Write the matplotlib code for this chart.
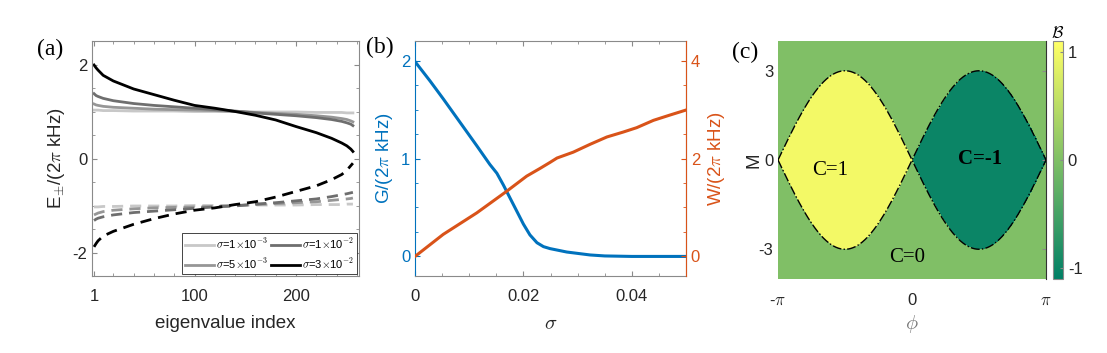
import matplotlib as mpl
import matplotlib.pyplot as plt
import numpy as np
from matplotlib.ticker import MultipleLocator, FixedLocator

mpl.rcParams['font.family'] = ['Liberation Sans', 'DejaVu Sans']
mpl.rcParams['mathtext.fontset'] = 'cm'
mpl.rcParams['axes.unicode_minus'] = False

tick_size = 12
label_size = 13.5
panel_size = 17
axis_gray = '#8a8a8a'
text_gray = '#262626'

# ---- panel (a): eigenvalues vs index ----
idx = [1, 3, 5, 10, 20, 40, 60, 80, 100, 120, 140, 160, 180, 200, 220, 235, 245, 250, 254, 256]
sigmas = ['1', '5', '1', '3']
sigma_exp = ['-3', '-3', '-2', '-2']
gray_colors = ['#c8c8c8', '#969696', '#6e6e6e', '#000000']
e_plus = [
    [1.03, 1.03, 1.03, 1.02, 1.02, 1.01, 1.01, 1.01, 1.00, 1.00, 1.00, 0.99, 0.99, 0.99, 0.98, 0.98, 0.98, 0.97, 0.97, 0.97],
    [1.16, 1.14, 1.13, 1.11, 1.09, 1.07, 1.05, 1.04, 1.03, 1.02, 1.00, 0.98, 0.96, 0.94, 0.91, 0.88, 0.85, 0.83, 0.80, 0.78],
    [1.38, 1.34, 1.32, 1.28, 1.23, 1.17, 1.13, 1.10, 1.07, 1.04, 1.01, 0.97, 0.94, 0.91, 0.87, 0.83, 0.79, 0.76, 0.73, 0.70],
    [1.99, 1.93, 1.88, 1.77, 1.65, 1.48, 1.36, 1.24, 1.13, 1.07, 1.00, 0.92, 0.82, 0.68, 0.55, 0.43, 0.33, 0.27, 0.20, 0.15],
]
e_minus = [
    [-1.03, -1.03, -1.03, -1.02, -1.02, -1.01, -1.01, -1.01, -1.00, -1.00, -1.00, -0.99, -0.99, -0.99, -0.98, -0.98, -0.98, -0.97, -0.97, -0.97],
    [-1.20, -1.18, -1.16, -1.13, -1.10, -1.07, -1.05, -1.04, -1.03, -1.02, -1.00, -0.98, -0.96, -0.94, -0.92, -0.89, -0.87, -0.86, -0.85, -0.84],
    [-1.32, -1.29, -1.27, -1.24, -1.20, -1.15, -1.12, -1.09, -1.06, -1.03, -1.01, -0.97, -0.94, -0.90, -0.86, -0.81, -0.77, -0.75, -0.73, -0.72],
    [-1.88, -1.81, -1.75, -1.65, -1.55, -1.40, -1.28, -1.18, -1.10, -1.05, -0.98, -0.92, -0.82, -0.70, -0.58, -0.45, -0.34, -0.25, -0.15, -0.10],
]

# ---- panel (b): G and W vs sigma ----
sig_g = [0.0, 0.0028, 0.0052, 0.0083, 0.0114, 0.0138, 0.0151, 0.0163, 0.0175, 0.0188,
         0.0200, 0.0212, 0.0225, 0.0237, 0.0249, 0.028, 0.0323, 0.035, 0.040, 0.050]
G = [1.99, 1.79, 1.61, 1.37, 1.13, 0.94, 0.85, 0.73, 0.60, 0.46,
     0.33, 0.22, 0.14, 0.10, 0.08, 0.045, 0.015, 0.005, 0.0, 0.0]
sig_w = [0.0, 0.0052, 0.0114, 0.0169, 0.0206, 0.0231, 0.0249, 0.0262, 0.0292, 0.0323,
         0.0354, 0.0384, 0.0409, 0.044, 0.0471, 0.050]
W = [0.0, 0.45, 0.89, 1.33, 1.64, 1.80, 1.92, 2.01, 2.13, 2.29,
     2.44, 2.54, 2.63, 2.78, 2.89, 2.99]

# ---- panel (c): Chern phase diagram ----
M_peak = 3.0
C_left, C_right, C_out = 1, -1, 0

fig = plt.figure(figsize=(11.07, 3.53), dpi=100)


def style(ax, color=axis_gray):
    for s in ax.spines.values():
        s.set_color(color)
        s.set_linewidth(0.8)
    ax.tick_params(which='both', direction='in', top=True, right=True,
                   colors=color, labelcolor=text_gray, labelsize=tick_size)
    ax.tick_params(which='major', length=3.5)
    ax.tick_params(which='minor', length=2)
    ax.tick_params(axis='x', pad=9)


# (a)
ax1 = fig.add_axes([0.0831, 0.2181, 0.2412, 0.6657])
for k in range(4):
    lab = r'$\sigma$=%s$\times$10$^{%s}$' % (sigmas[k], sigma_exp[k])
    ax1.plot(idx, e_plus[k], color=gray_colors[k], lw=2.0, label=lab)
    ax1.plot(idx, e_minus[k], color=gray_colors[k], lw=2.0, ls=(0, (4, 2.5)))
ax1.set_xlim(-1, 262)
ax1.set_ylim(-2.5, 2.5)
ax1.set_xticks([1, 100, 200])
ax1.xaxis.set_minor_locator(FixedLocator(np.arange(20, 262, 20)))
ax1.set_yticks([-2, 0, 2])
ax1.yaxis.set_minor_locator(MultipleLocator(0.5))
style(ax1)
ax1.set_xlabel('eigenvalue index', fontsize=label_size, color=text_gray, labelpad=8)
ax1.set_ylabel(r'E$_{\pm}$/(2$\pi$ kHz)', fontsize=label_size, color=text_gray)
leg = ax1.legend(ncol=2, loc='lower right', fontsize=8, handlelength=2.6,
                 handletextpad=0.2, columnspacing=0.2, borderpad=0.3,
                 labelspacing=0.5, fancybox=False, framealpha=1,
                 borderaxespad=0.15, edgecolor=text_gray)
leg.get_frame().set_linewidth(0.6)
fig.text(0.033, 0.845, '(a)', fontsize=panel_size, family='Liberation Serif')

# (b)
blue = '#0072BD'
orange = '#D95319'
ax2 = fig.add_axes([0.3749, 0.2181, 0.2448, 0.6657])
ax2.plot(sig_g, G, color=blue, lw=2.2)
ax2.set_xlim(0, 0.05)
ax2.set_ylim(-0.2, 2.2)
ax2.set_xticks([0, 0.02, 0.04])
ax2.set_xticklabels(['0', '0.02', '0.04'])
ax2.xaxis.set_minor_locator(MultipleLocator(0.005))
ax2.set_yticks([0, 1, 2])
ax2.yaxis.set_minor_locator(MultipleLocator(0.25))
for s in ax2.spines.values():
    s.set_color(axis_gray)
    s.set_linewidth(0.8)
ax2.spines['left'].set_color(blue)
ax2.tick_params(which='both', direction='in', top=True, right=False,
                colors=axis_gray, labelcolor=text_gray, labelsize=tick_size)
ax2.tick_params(axis='y', which='both', colors=blue, labelcolor=blue)
ax2.tick_params(which='major', length=3.5)
ax2.tick_params(which='minor', length=2)
ax2.tick_params(axis='x', pad=9)
ax2.set_xlabel(r'$\sigma$', fontsize=label_size + 1, color=text_gray, labelpad=8)
ax2.set_ylabel(r'G/(2$\pi$ kHz)', fontsize=label_size, color=blue)

ax2r = ax2.twinx()
ax2r.plot(sig_w, W, color=orange, lw=2.2)
ax2r.set_ylim(-0.4, 4.4)
ax2r.set_yticks([0, 2, 4])
ax2r.yaxis.set_minor_locator(MultipleLocator(0.5))
ax2r.spines['right'].set_color(orange)
ax2r.spines['left'].set_visible(False)
ax2r.spines['top'].set_visible(False)
ax2r.spines['bottom'].set_visible(False)
ax2r.tick_params(which='both', direction='in', colors=orange, labelcolor=orange, labelsize=tick_size)
ax2r.tick_params(which='major', length=3.5)
ax2r.tick_params(which='minor', length=2)
ax2r.set_ylabel(r'W/(2$\pi$ kHz)', fontsize=label_size, color=orange)
fig.text(0.3305, 0.85, '(b)', fontsize=panel_size, family='Liberation Serif')

# (c)
ax3 = fig.add_axes([0.7028, 0.2096, 0.2421, 0.6742])
phi = np.linspace(-np.pi, np.pi, 801)
M = np.linspace(-4, 4, 801)
PH, MM = np.meshgrid(phi, M)
edge = M_peak * np.abs(np.sin(PH))
B = np.full(PH.shape, float(C_out))
B[(np.abs(MM) < edge) & (PH < 0)] = C_left
B[(np.abs(MM) < edge) & (PH > 0)] = C_right
im = ax3.imshow(B, extent=[-np.pi, np.pi, -4, 4], origin='lower', aspect='auto',
                cmap='summer', vmin=-1.1, vmax=1.1, interpolation='nearest')
bound = M_peak * np.sin(phi)
ax3.plot(phi, bound, color='k', lw=1.0, ls='-.')
ax3.plot(phi, -bound, color='k', lw=1.0, ls='-.')
ax3.set_xlim(-np.pi, np.pi)
ax3.set_ylim(-4, 4)
ax3.set_xticks([-np.pi, 0, np.pi])
ax3.set_xticklabels([r'-$\pi$', '0', r'$\pi$'])
ax3.set_yticks([-3, 0, 3])
for s in ax3.spines.values():
    s.set_visible(False)
ax3.spines['right'].set_visible(True)
ax3.spines['right'].set_color('#333333')
ax3.spines['right'].set_linewidth(0.8)
ax3.tick_params(direction='in', left=False, bottom=False, right=True, length=3,
                colors=axis_gray, labelcolor=text_gray, labelsize=tick_size)
ax3.tick_params(axis='x', pad=10)
ax3.set_xlabel(r'$\phi$', fontsize=label_size + 1, color='#777777')
ax3.set_ylabel('M', fontsize=label_size, color=text_gray, labelpad=-3)
ax3.text(-1.92, -0.34, 'C=1', fontsize=15, family='Liberation Serif', ha='center', va='center')
ax3.text(1.59, 0.05, 'C=-1', fontsize=15, family='Liberation Serif', weight='bold', ha='center', va='center')
ax3.text(-0.12, -3.27, 'C=0', fontsize=15, family='Liberation Serif', ha='center', va='center')
fig.text(0.661, 0.835, '(c)', fontsize=panel_size, family='Liberation Serif')

cax = fig.add_axes([0.9512, 0.2096, 0.009, 0.6742])
cb = fig.colorbar(im, cax=cax, ticks=[-1, 0, 1])
cb.outline.set_edgecolor(axis_gray)
cb.outline.set_linewidth(0.8)
cax.tick_params(direction='in', length=2, colors=axis_gray, labelcolor=text_gray, labelsize=tick_size)
cax.set_title(r'$\mathcal{B}$', fontsize=12, pad=1)

fig.savefig('out.png', dpi=100)
